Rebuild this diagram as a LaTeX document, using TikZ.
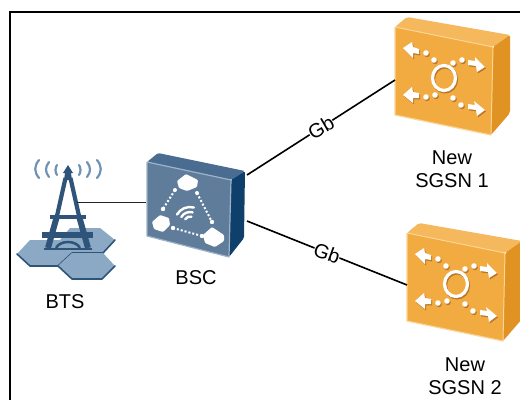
\documentclass[tikz,border=0pt]{standalone}
\usepackage{fontspec}
\setmainfont{Liberation Sans}
\definecolor{orF}{HTML}{F2AB40}
\definecolor{orT}{HTML}{F5B85C}
\definecolor{orS}{HTML}{E09322}
\definecolor{orE}{HTML}{FAD596}
\definecolor{orD}{HTML}{B9752A}
\definecolor{blF}{HTML}{5F7C9B}
\definecolor{blT}{HTML}{4A6C90}
\definecolor{blS}{HTML}{0F3F6B}
\definecolor{blD}{HTML}{2F5479}
\definecolor{blH}{HTML}{8BA8C4}
\definecolor{blW}{HTML}{6F93B3}
\definecolor{blE}{HTML}{9DB3C9}
\tikzset{
 lbl/.style={font=\fontsize{20}{23}\selectfont,align=center,inner sep=0pt},
 wire/.style={draw=black,line width=1.6pt},
 edgelbl/.style={midway,fill=white,inner sep=0pt,font=\fontsize{20}{20}\selectfont},
 wave/.style={draw=blW,line width=2.2pt,line cap=round},
 hexedge/.style={draw=blD,line width=1.6pt,line join=round,line cap=round},
 dotline/.style={draw=white,line width=2pt,dash pattern=on 2pt off 2pt}
}
\newcommand{\sgsnmarks}{%
  \draw[line width=3.2pt] (444,78) circle[x radius=11.5,y radius=12.5];
  \fill (403,48)--(412,42)--(413,47)--(419,49)--(419,54)--(413,53)--(413,58)--cycle;
  \fill (485,67)--(475,57)--(475,61)--(468,60)--(468,65)--(476,66)--(477,72)--cycle;
  \fill (403,95)--(412,87)--(413,92)--(419,93)--(419,98)--(413,98)--(413,103)--cycle;
  \fill (485,110)--(474,101)--(475,105)--(468,104)--(468,109)--(476,110)--(477,116)--cycle;
  \foreach \p in {(426,53),(434,60),(453,63),(462,60),(426,97),(435,95),(453,98),(461,105)}
    \fill \p circle[radius=2.8];
}
\newcommand{\sgsnicon}{%
 \fill[orT,rounded corners=2pt] (395,27)--(407,17)--(510,35)--(493,47)--cycle;
 \fill[orS,rounded corners=2pt] (493,47)--(510,35)--(510,113)--(491,135)--cycle;
 \fill[orF] (395,27)--(493,47)--(491,135)--(395,115)--cycle;
 \draw[orE,line width=1.2pt,line join=round] (395,27)--(395,115)--(491,135);
 \draw[orE,line width=1pt,line join=round] (395,27)--(493,47)--(491,135);
 \begin{scope}[shift={(1,1.4)},orD]\sgsnmarks\end{scope}
 \begin{scope}[white]\sgsnmarks\end{scope}
}
\begin{document}
\begin{tikzpicture}[x=1pt,y=-1pt]
\useasboundingbox (0,0) rectangle (520,400);
\clip (0,0) rectangle (520,400);
\fill[white] (0,0) rectangle (520,400);
\draw[black,line width=2pt] (10,400)--(10,12)--(520,12);
% BTS hexagons
\fill[blH] (60,240)--(70,228)--(100,228)--(115,240)--(103,253)--(72,253)--cycle;
\draw[hexedge] (72,253)--(103,253)--(115,240);
\fill[blH] (17,254)--(30,240)--(60,240)--(72,253)--(60,266)--(30,266)--cycle;
\draw[hexedge] (17,254)--(30,266)--(58,266)--(72,253);
\fill[blH] (58,266)--(72,253)--(103,253)--(115,266)--(102,279)--(72,279)--cycle;
\draw[hexedge] (58,266)--(72,279)--(102,279)--(115,266);
% tower
\fill[blD] (68,165)--(73,173)--(71,173)--(72,180)--(64,180)--(65,173)--(63,173)--cycle;
\draw[blD,line width=4.2pt] (65.5,178)--(57,216) (70.5,178)--(79,216);
\draw[blD,line width=6pt] (57,216)--(48,248) (79,216)--(88,248);
\draw[blD,line width=4.5pt] (50,217)--(86,217);
\draw[blD,line width=6pt] (42,235)--(93,235);
\draw[blD,line width=2pt] (44,249)--(92,249);
\draw[blD,line width=2.5pt] (56,248) .. controls (60,240) and (76,240) .. (80,248);
% radio waves
\draw[wave] (39,160) .. controls (34,166) and (34,172) .. (39,178);
\draw[wave] (49,162) .. controls (45,167) and (45,172) .. (49,177);
\draw[wave] (57,165) .. controls (55,168) and (55,172) .. (57,175);
\draw[wave] (79,165) .. controls (81,168) and (81,172) .. (79,175);
\draw[wave] (87,162) .. controls (91,167) and (91,172) .. (87,177);
\draw[wave] (97,160) .. controls (102,166) and (102,172) .. (97,178);
% BSC
\fill[blT,rounded corners=1.5pt] (147,162)--(158,153)--(245,171)--(231,180)--cycle;
\fill[blS,rounded corners=1.5pt] (231,180)--(245,171)--(244,238)--(229,257)--cycle;
\fill[blF] (147,162)--(231,180)--(229,257)--(147,236)--cycle;
\draw[blE,line width=1.2pt,line join=round] (147,162)--(231,180)--(229,257)--(147,236)--cycle;
\fill[white,rounded corners=1pt] (177,181)--(186,174)--(198,180)--(197,187)--(187,191)--(179,188)--cycle;
\fill[white,rounded corners=1pt] (152,222)--(160,215)--(169,218)--(170,225)--(163,232)--(154,229)--cycle;
\fill[white,rounded corners=1pt] (203,235)--(212,227)--(224,235)--(224,241)--(215,247)--(205,243)--cycle;
\draw[dotline] (175,190)--(163,209);
\draw[dotline] (197,193)--(212,222);
\draw[dotline] (173,228)--(202,236);
\fill[white] (175,190) circle[radius=2] (163,209) circle[radius=2.2] (197,193) circle[radius=2] (212,222) circle[radius=2.2] (173,228) circle[radius=2.2] (202,236) circle[radius=2.2];
\draw[white,line width=2.4pt,line cap=round] (190,222) ++(210:15) arc[start angle=210,end angle=285,radius=15];
\draw[white,line width=2.4pt,line cap=round] (190,222) ++(210:10) arc[start angle=210,end angle=285,radius=10];
\draw[white,line width=2.4pt,line cap=round] (190,222) ++(210:5.5) arc[start angle=210,end angle=285,radius=5.5];
% SGSN icons
\sgsnicon
\begin{scope}[shift={(12,206)}]\sgsnicon\end{scope}
% connector ends
\coordinate (bts) at (77,202);
\coordinate (bscL) at (146,202);
\coordinate (bscA) at (247,175);
\coordinate (bscB) at (247,221);
\coordinate (sg1) at (395,80);
\coordinate (sg2) at (407,285);
\draw[draw=black!85,line width=1pt] (bts) -- (bscL);
\draw[wire] (bscA) -- node[edgelbl,rotate=30] (gb1) {Gb} (sg1);
\draw[wire] (bscB) -- node[edgelbl,rotate=-20] (gb2) {Gb} (sg2);
\node[lbl] (btsl) at (65,302) {BTS};
\node[lbl] (bscl) at (196,278) {BSC};
\node[lbl] (s1l) at (452,169) {New\\SGSN 1};
\node[lbl] (s2l) at (465,376) {New\\SGSN 2};
\end{tikzpicture}
\end{document}
